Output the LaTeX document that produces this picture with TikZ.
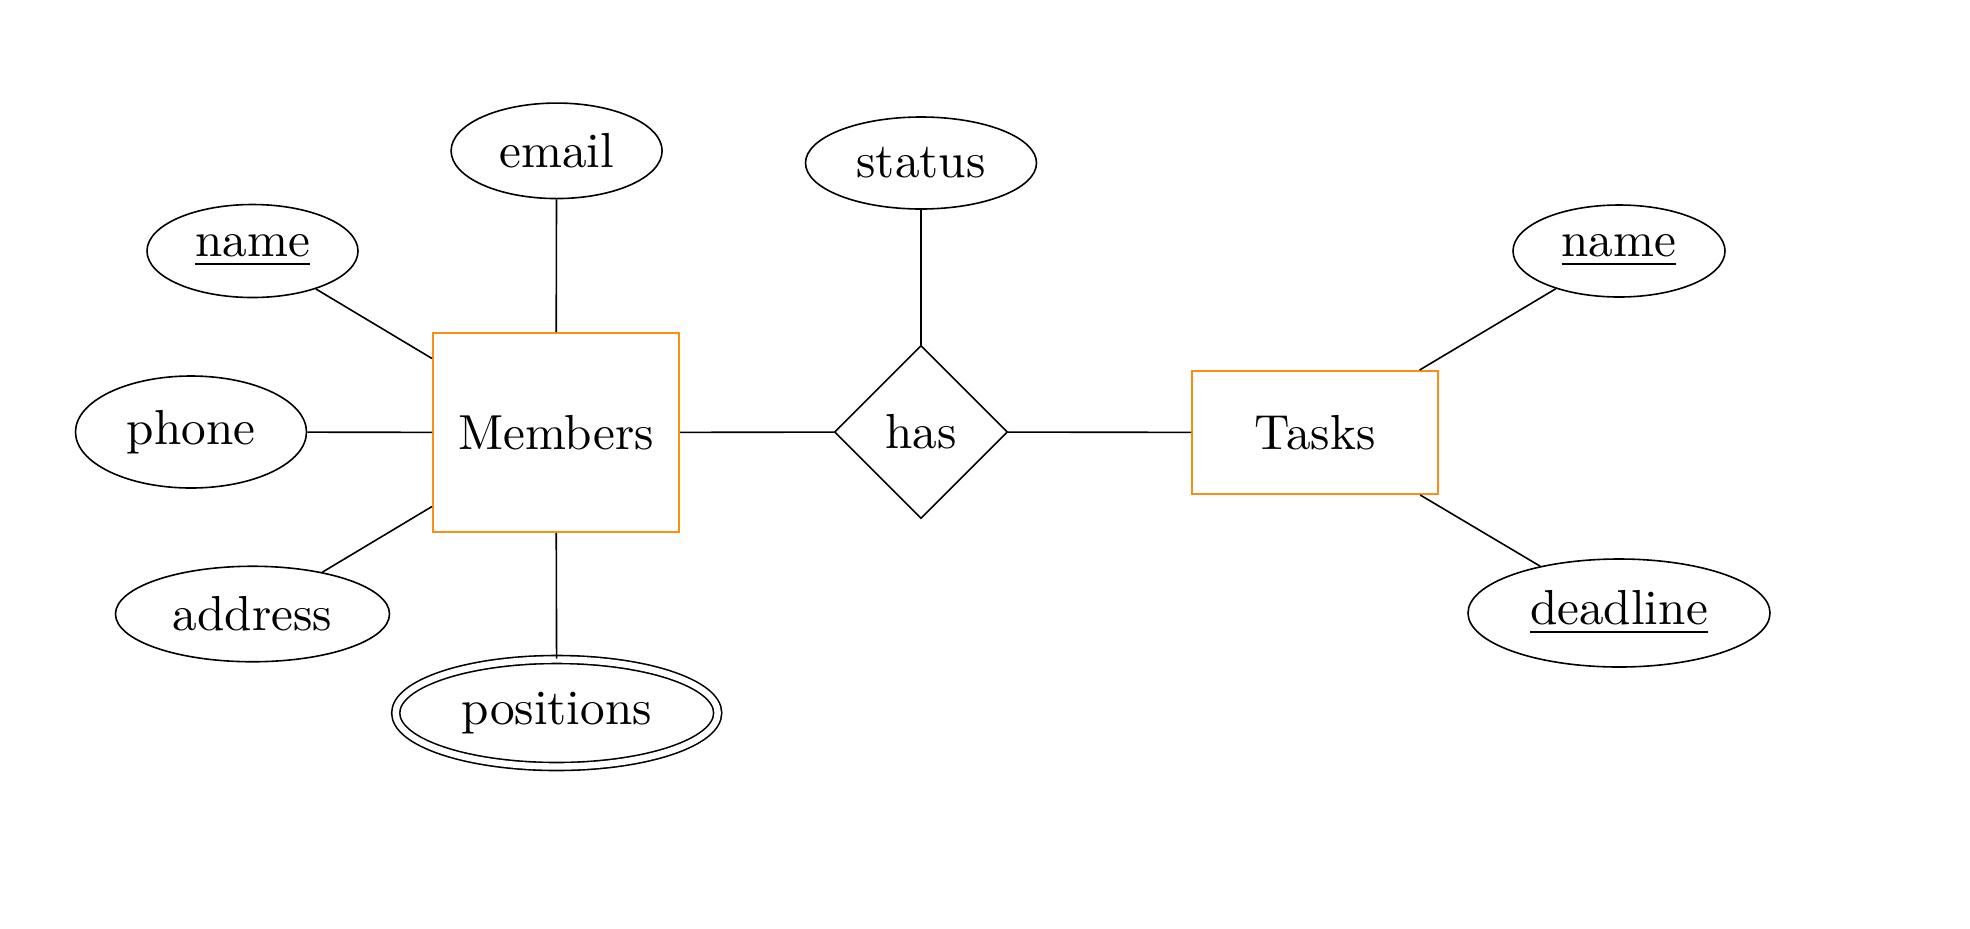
\documentclass[tikz,border=0pt]{standalone}
\usepackage{graphicx}
\usetikzlibrary{shapes.geometric}
\definecolor{entorange}{RGB}{255,140,20}
\newcommand{\bigtxt}[1]{\scalebox{2.46}{#1}}
\begin{document}
\begin{tikzpicture}[x=0.5pt,y=-0.5pt,line width=0.8pt,
  entity/.style={draw=entorange,line width=1pt,rectangle,font=\normalsize,inner sep=2pt},
  attr/.style={draw,ellipse,font=\normalsize,inner sep=0pt},
  multiattr/.style={attr,double,double distance=3.2pt},
  rel/.style={draw,diamond,aspect=1,font=\normalsize,inner sep=0pt},
  conn/.style={draw,black,line width=0.8pt}]
\useasboundingbox (0,0) rectangle (1970,928);
\node[entity,minimum width=123pt,minimum height=99.5pt] (members) at (556,432.5) {\bigtxt{Members}};
\node[entity,minimum width=123pt,minimum height=61.5pt] (tasks) at (1315,432.5) {\bigtxt{Tasks}};
\node[rel,minimum size=86.5pt] (has) at (921,432) {\bigtxt{has}};
\node[attr,minimum width=105.5pt,minimum height=47.75pt] (email) at (556.6,150.8) {\bigtxt{email}};
\node[attr,minimum width=115.5pt,minimum height=46pt] (status) at (921,163) {\bigtxt{status}};
\node[attr,minimum width=105.5pt,minimum height=46.5pt] (name1) at (252.5,251) {\bigtxt{\underline{name}}};
\node[attr,minimum width=115.5pt,minimum height=56pt] (phone) at (191,432) {\bigtxt{phone}};
\node[attr,minimum width=137pt,minimum height=47.75pt] (address) at (252.5,614) {\bigtxt{address}};
\node[multiattr,minimum width=161pt,minimum height=53.5pt] (positions) at (556.7,713) {\bigtxt{positions}};
\node[attr,minimum width=106pt,minimum height=46pt] (name2) at (1619,251) {\bigtxt{\underline{name}}};
\node[attr,minimum width=151pt,minimum height=54pt] (deadline) at (1619,613) {\bigtxt{\underline{deadline}}};
\draw[conn] (name1) -- (members);
\draw[conn] (phone) -- (members);
\draw[conn] (address) -- (members);
\draw[conn] (email) -- (members);
\draw[conn] (positions) -- (members);
\draw[conn] (members) -- (has);
\draw[conn] (status) -- (has);
\draw[conn] (has) -- (tasks);
\draw[conn] (tasks) -- (name2);
\draw[conn] (tasks) -- (deadline);
\end{tikzpicture}
\end{document}
